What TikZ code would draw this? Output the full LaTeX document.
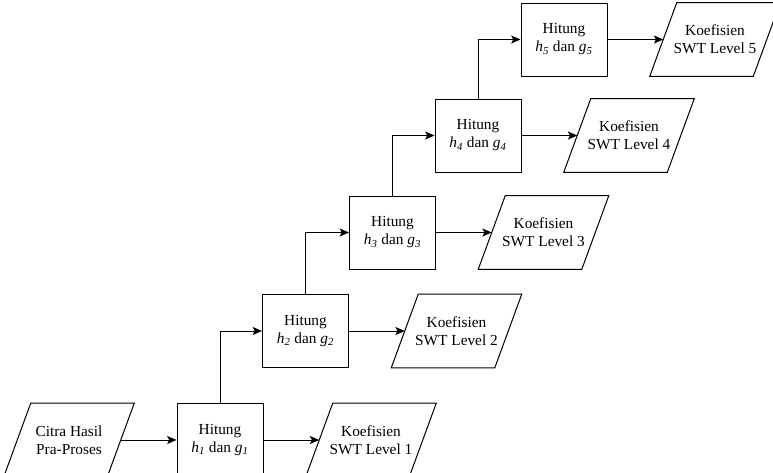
\documentclass[tikz,border=0pt]{standalone}
\usepackage{fontspec}
\setmainfont{Liberation Serif}
\usetikzlibrary{arrows.meta}

% 平行四边形的边框
\newcommand{\jajargenjang}[1]{%
    \draw[garis] ([xshift=10.1pt]#1.north west) -- ([xshift=10.1pt]#1.north east)
        -- ([xshift=-10.1pt]#1.south east) -- ([xshift=-10.1pt]#1.south west) -- cycle;}

\begin{document}
\begin{tikzpicture}[x=0.75pt, y=-0.75pt,
    font=\fontsize{11.5}{13.5}\selectfont,
    garis/.style={line width=0.75pt},
    hitung/.style={draw, garis, minimum width=64.5pt,
        minimum height=54.75pt, align=center, inner sep=0pt},
    data/.style={minimum width=77.25pt, minimum height=54.75pt,
        align=center, inner sep=0pt},
    panah/.style={-{Stealth[length=7pt, width=6pt, inset=1.5pt]}, garis}]
% 1. 画布大小
\useasboundingbox (0, 0) rectangle (773, 472);
\clip (0, 0) rectangle (773, 472);

% 2. 输入图像
\node[data] (citra) at (69, 440) {Citra Hasil\\Pra-Proses};
\jajargenjang{citra}

% 3. 每一层的计算和系数
\foreach \i/\bx/\by in
    {1/220/440, 2/305.5/331, 3/392.5/232.5, 4/478/135.5, 5/564/39.5}
    {\node[hitung] (h\i) at (\bx, \by)
        {Hitung\\\textit{h}\textsubscript{\textit{\i}} dan \textit{g}\textsubscript{\textit{\i}}};
     \node[data] (k\i) at (\bx+151, \by) {Koefisien\\SWT Level \i};
     \jajargenjang{k\i}
     \draw[panah] (h\i) -- (k\i);
    }

% 4. 连接箭头
\draw[panah] (citra) -- (h1);
\foreach \i/\j in
    {1/2, 2/3, 3/4, 4/5}
    {\draw[panah] (h\i.north) |- (h\j.west);
    }
\end{tikzpicture}
\end{document}
